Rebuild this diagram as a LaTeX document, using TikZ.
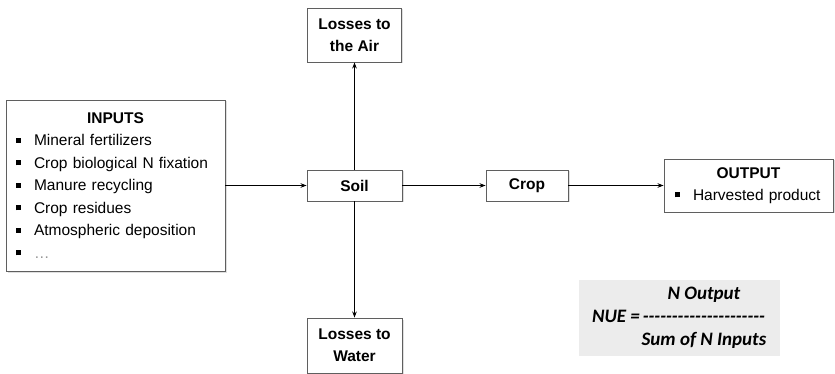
\documentclass[tikz,border=0pt]{standalone}
\usepackage{fontspec}
\setmainfont{Liberation Sans}
\newfontfamily\nuefont{Carlito}
\usepackage{xcolor}
\definecolor{grisBorde}{RGB}{95,95,95}
\definecolor{grisClaro}{RGB}{236,236,236}
\definecolor{grisPuntos}{RGB}{150,150,150}
\usepackage{tikz}
\usetikzlibrary{arrows.meta,shadows,positioning}
\tikzstyle{caja}  =[draw=grisBorde, fill=white, line width=0.9pt,
                    inner sep=0pt, align=center,
                    font=\fontsize{15.5}{22}\selectfont\bfseries,
                    drop shadow={shadow xshift=1.5pt, shadow yshift=-1.5pt,
                                 opacity=0.25}]
\tikzstyle{lista} =[font=\fontsize{15.5}{22.5}\selectfont, align=left]
\tikzstyle{flecha}=[-{Stealth[length=6pt,width=4.5pt]}, line width=1.3pt]
\newcommand{\vineta}{\rule[0.2em]{5pt}{5pt}}
\newcommand{\punto}[1]{\makebox[18pt][l]{\vineta}#1}

\begin{document}
\begin{tikzpicture}[x=1pt,y=-1pt]
    \useasboundingbox (0,0) rectangle (835,374);

        \begin{scope}[]
            \draw (115.5,185.5) node (inputs) [caja,lista,minimum width=219pt,
                minimum height=171pt,text width=199pt] {%
                \makebox[199pt]{\textbf{INPUTS}}\\
                \punto{Mineral fertilizers}\\
                \punto{Crop biological N fixation}\\
                \punto{Manure recycling}\\
                \punto{Crop residues}\\
                \punto{Atmospheric deposition}\\
                \punto{\textcolor{grisPuntos}{\ldots}}};
            \draw (354.5,185.5) node (soil) [caja,minimum width=95pt,minimum height=31pt] {Soil};
            \draw (527,185.5) node (crop) [caja,minimum width=82pt,minimum height=31pt] {Crop};
            \draw (354.5,35) node (air) [caja,minimum width=94pt,minimum height=54pt] {Losses to\\the Air};
            \draw (354.5,345.5) node (water) [caja,minimum width=95pt,minimum height=55pt] {Losses to\\Water};
            \draw (748.5,185.5) node (output) [caja,lista,minimum width=169pt,
                minimum height=53pt,text width=147pt,inner xsep=11pt] {%
                \makebox[147pt]{\textbf{OUTPUT}}\\
                \punto{Harvested product}};

            \foreach \i/\j in{inputs/soil,soil/crop,crop/output,soil/air,soil/water}
                \draw [flecha] (\i) to (\j);
        \end{scope}

        \begin{scope}[]
            \draw (679.5,318) node (nue) [fill=grisClaro,minimum width=201pt,minimum height=76pt,
                font=\nuefont\bfseries\itshape\fontsize{19}{23}\selectfont] {%
                \begin{tabular}{@{}r@{\hspace{1pt}}c@{}}
                    & N Output\\
                    NUE = & \hbox to 126pt{\cleaders\hbox{-}\hfill}\\
                    & Sum of N Inputs
                \end{tabular}};
        \end{scope}

    \end{tikzpicture}
\end{document}
